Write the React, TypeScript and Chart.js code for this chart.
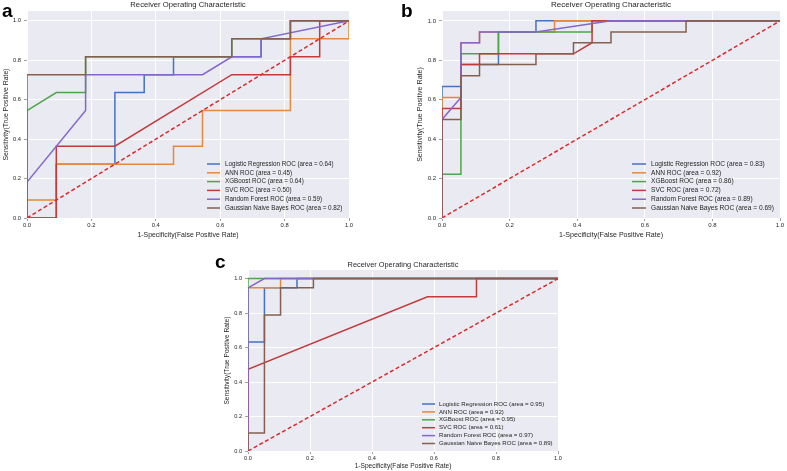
import React, { useEffect, useRef } from "react";
import { Chart, registerables } from "chart.js";

Chart.register(...registerables);

const FONT = "'Liberation Sans', Arial, Helvetica, sans-serif";
const TEXT_COLOR = "#262626";

const MODEL_NAMES = ["Logistic Regression", "ANN", "XGBoost", "SVC", "Random Forest", "Gaussian Naive Bayes"];
const MODEL_COLORS = ["#4472C4", "#E8883A", "#4EA64A", "#C43A3A", "#8466CC", "#86604E"];
const DIAG_COLOR = "#D92B2B";
const AXIS_TICKS = [0, 0.2, 0.4, 0.6, 0.8, 1.0];
const CHANCE_FPR = [0, 1];
const CHANCE_TPR = [0, 1];

// ---------- Panel a ----------
const aAuc = [0.64, 0.45, 0.64, 0.5, 0.59, 0.82];
const aLogRegFpr = [0, 0.091, 0.091, 0.273, 0.273, 0.364, 0.364, 0.455, 0.455, 0.727, 0.727, 0.818, 0.818, 1];
const aLogRegTpr = [0, 0, 0.273, 0.273, 0.636, 0.636, 0.727, 0.727, 0.818, 0.818, 0.909, 0.909, 1, 1];
const aAnnFpr = [0, 0, 0.091, 0.091, 0.455, 0.455, 0.545, 0.545, 0.818, 0.818, 1, 1];
const aAnnTpr = [0, 0.091, 0.091, 0.273, 0.273, 0.364, 0.364, 0.545, 0.545, 0.909, 0.909, 1];
const aXgbFpr = [0, 0, 0.091, 0.182, 0.182, 0.636, 0.636, 0.818, 0.818, 1];
const aXgbTpr = [0, 0.545, 0.636, 0.636, 0.818, 0.818, 0.909, 0.909, 1, 1];
const aSvcFpr = [0, 0.091, 0.091, 0.273, 0.636, 0.818, 0.818, 0.909, 0.909, 1];
const aSvcTpr = [0, 0, 0.364, 0.364, 0.727, 0.727, 0.818, 0.818, 1, 1];
const aRfFpr = [0, 0, 0.182, 0.182, 0.545, 0.636, 0.727, 0.727, 1];
const aRfTpr = [0, 0.182, 0.545, 0.727, 0.727, 0.818, 0.818, 0.909, 1];
const aGnbFpr = [0, 0, 0.182, 0.182, 0.636, 0.636, 0.818, 0.818, 1];
const aGnbTpr = [0, 0.727, 0.727, 0.818, 0.818, 0.909, 0.909, 1, 1];

// ---------- Panel b ----------
const bAuc = [0.83, 0.92, 0.86, 0.72, 0.89, 0.69];
const bLogRegFpr = [0, 0, 0.056, 0.056, 0.167, 0.167, 0.278, 0.278, 1];
const bLogRegTpr = [0, 0.667, 0.667, 0.778, 0.778, 0.944, 0.944, 1, 1];
const bAnnFpr = [0, 0, 0.056, 0.056, 0.111, 0.111, 0.333, 0.333, 1];
const bAnnTpr = [0, 0.611, 0.611, 0.889, 0.889, 0.944, 0.944, 1, 1];
const bXgbFpr = [0, 0, 0.056, 0.056, 0.167, 0.167, 0.444, 0.444, 1];
const bXgbTpr = [0, 0.222, 0.222, 0.833, 0.833, 0.944, 0.944, 1, 1];
const bSvcFpr = [0, 0, 0.056, 0.056, 0.111, 0.111, 0.389, 0.444, 0.444, 1];
const bSvcTpr = [0, 0.556, 0.556, 0.778, 0.778, 0.833, 0.833, 0.889, 1, 1];
const bRfFpr = [0, 0, 0.056, 0.056, 0.111, 0.111, 0.278, 0.5, 1];
const bRfTpr = [0, 0.5, 0.611, 0.889, 0.889, 0.944, 0.944, 1, 1];
const bGnbFpr = [0, 0, 0.056, 0.056, 0.111, 0.111, 0.278, 0.278, 0.389, 0.389, 0.5, 0.5, 0.722, 0.722, 1];
const bGnbTpr = [0, 0.5, 0.5, 0.722, 0.722, 0.778, 0.778, 0.833, 0.833, 0.889, 0.889, 0.944, 0.944, 1, 1];

// ---------- Panel c ----------
const cAuc = [0.95, 0.92, 0.95, 0.61, 0.97, 0.89];
const cLogRegFpr = [0, 0, 0.053, 0.053, 0.158, 0.158, 1];
const cLogRegTpr = [0, 0.632, 0.632, 0.947, 0.947, 1, 1];
const cAnnFpr = [0, 0, 0.105, 0.105, 1];
const cAnnTpr = [0, 0.947, 0.947, 1, 1];
const cXgbFpr = [0, 0, 1];
const cXgbTpr = [0, 1, 1];
const cSvcFpr = [0, 0, 0.579, 0.737, 0.737, 1];
const cSvcTpr = [0, 0.474, 0.895, 0.895, 1, 1];
const cRfFpr = [0, 0, 0.053, 1];
const cRfTpr = [0, 0.947, 1, 1];
const cGnbFpr = [0, 0, 0.053, 0.053, 0.105, 0.105, 0.211, 0.211, 1];
const cGnbTpr = [0, 0.105, 0.105, 0.789, 0.789, 0.947, 0.947, 1, 1];

type Curve = { fpr: number[]; tpr: number[] };

const PANELS = [
  {
    letter: "a",
    letterPos: { left: 2, top: 1 },
    canvas: { left: 0, top: 0, w: 360, h: 245 },
    padding: { left: 0, right: 11, top: 11, bottom: 0 },
    yWidth: 27,
    xHeight: 27,
    yTitlePad: 2,
    xTitlePad: 5.5,
    tickSize: 5.8,
    axisTitleSize: 6.9,
    titleSize: 7.7,
    titleY: 4.6,
    legend: { size: 6.3, x0: 207, x1: 220, tx: 225, y0: 164, gap: 8.8 },
    auc: aAuc,
    curves: [
      { fpr: aLogRegFpr, tpr: aLogRegTpr },
      { fpr: aAnnFpr, tpr: aAnnTpr },
      { fpr: aXgbFpr, tpr: aXgbTpr },
      { fpr: aSvcFpr, tpr: aSvcTpr },
      { fpr: aRfFpr, tpr: aRfTpr },
      { fpr: aGnbFpr, tpr: aGnbTpr },
    ] as Curve[],
  },
  {
    letter: "b",
    letterPos: { left: 401, top: 1 },
    canvas: { left: 400, top: 0, w: 387, h: 245 },
    padding: { left: 14, right: 7, top: 11, bottom: 0 },
    yWidth: 28,
    xHeight: 27,
    yTitlePad: 2,
    xTitlePad: 5.5,
    tickSize: 6,
    axisTitleSize: 7.1,
    titleSize: 8,
    titleY: 4.8,
    legend: { size: 6.6, x0: 232, x1: 246, tx: 251, y0: 164, gap: 8.8 },
    auc: bAuc,
    curves: [
      { fpr: bLogRegFpr, tpr: bLogRegTpr },
      { fpr: bAnnFpr, tpr: bAnnTpr },
      { fpr: bXgbFpr, tpr: bXgbTpr },
      { fpr: bSvcFpr, tpr: bSvcTpr },
      { fpr: bRfFpr, tpr: bRfTpr },
      { fpr: bGnbFpr, tpr: bGnbTpr },
    ] as Curve[],
  },
  {
    letter: "c",
    letterPos: { left: 215, top: 252 },
    canvas: { left: 210, top: 250, w: 360, h: 221 },
    padding: { left: 11, right: 12, top: 20, bottom: 0 },
    yWidth: 27,
    xHeight: 20,
    yTitlePad: 2,
    xTitlePad: 1,
    tickSize: 5.6,
    axisTitleSize: 6.6,
    titleSize: 7.4,
    titleY: 15,
    legend: { size: 6.1, x0: 212, x1: 225, tx: 229, y0: 154, gap: 7.9 },
    auc: cAuc,
    curves: [
      { fpr: cLogRegFpr, tpr: cLogRegTpr },
      { fpr: cAnnFpr, tpr: cAnnTpr },
      { fpr: cXgbFpr, tpr: cXgbTpr },
      { fpr: cSvcFpr, tpr: cSvcTpr },
      { fpr: cRfFpr, tpr: cRfTpr },
      { fpr: cGnbFpr, tpr: cGnbTpr },
    ] as Curve[],
  },
];

const decorPlugin = {
  id: "decor",
  beforeDraw(chart: any, _args: any, opts: any) {
    const { ctx, chartArea: ca } = chart;
    ctx.save();
    ctx.fillStyle = "#EAEAF2";
    ctx.fillRect(ca.left, ca.top, ca.right - ca.left, ca.bottom - ca.top);
    ctx.restore();
  },
  afterDraw(chart: any, _args: any, opts: any) {
    const { ctx, chartArea: ca } = chart;
    ctx.save();
    // title
    ctx.font = `${opts.titleSize}px ${FONT}`;
    ctx.fillStyle = TEXT_COLOR;
    ctx.textAlign = "center";
    ctx.textBaseline = "middle";
    ctx.fillText(opts.title, (ca.left + ca.right) / 2, opts.titleY);
    // legend
    const lg = opts.legend;
    ctx.font = `${lg.size}px ${FONT}`;
    ctx.textAlign = "left";
    ctx.textBaseline = "middle";
    opts.items.forEach((it: any, i: number) => {
      const y = lg.y0 + i * lg.gap;
      ctx.strokeStyle = it.color;
      ctx.lineWidth = 1.5;
      ctx.setLineDash([]);
      ctx.beginPath();
      ctx.moveTo(lg.x0, y);
      ctx.lineTo(lg.x1, y);
      ctx.stroke();
      ctx.fillStyle = TEXT_COLOR;
      ctx.fillText(it.label, lg.tx, y);
    });
    ctx.restore();
  },
};

function RocPanel({ cfg }: { cfg: (typeof PANELS)[number] }) {
  const ref = useRef<HTMLCanvasElement>(null);
  useEffect(() => {
    const canvas = ref.current!;
    const labels = cfg.curves.map((_, i) => `${MODEL_NAMES[i]} ROC (area = ${cfg.auc[i].toFixed(2)})`);
    const datasets: any[] = cfg.curves.map((c, i) => ({
      label: labels[i],
      data: c.fpr.map((x, j) => ({ x, y: c.tpr[j] })),
      borderColor: MODEL_COLORS[i],
      backgroundColor: MODEL_COLORS[i],
      borderWidth: 1.5,
      pointRadius: 0,
      fill: false,
      tension: 0,
      order: 10 - i,
    }));
    datasets.push({
      label: "chance",
      data: CHANCE_FPR.map((x, j) => ({ x, y: CHANCE_TPR[j] })),
      borderColor: DIAG_COLOR,
      borderWidth: 1.5,
      borderDash: [4, 2.5],
      pointRadius: 0,
      fill: false,
      order: 0,
    });
    const tickFont = { family: FONT, size: cfg.tickSize };
    const titleFont = { family: FONT, size: cfg.axisTitleSize };
    const chart = new Chart(canvas, {
      type: "line",
      data: { datasets },
      plugins: [decorPlugin],
      options: {
        responsive: false,
        maintainAspectRatio: false,
        animation: false,
        events: [],
        layout: { padding: cfg.padding },
        plugins: {
          legend: { display: false },
          tooltip: { enabled: false },
          title: { display: false },
          decor: {
            title: "Receiver Operating Characteristic",
            titleSize: cfg.titleSize,
            titleY: cfg.titleY,
            legend: cfg.legend,
            items: labels.map((l, i) => ({ label: l, color: MODEL_COLORS[i] })),
          },
        } as any,
        scales: {
          x: {
            type: "linear",
            min: 0,
            max: 1,
            afterBuildTicks: (s: any) => {
              s.ticks = AXIS_TICKS.map((v) => ({ value: v }));
            },
            afterFit: (s: any) => {
              s.height = cfg.xHeight;
            },
            grid: { color: "#FFFFFF", lineWidth: 1, drawTicks: true, tickLength: 3, tickColor: "#A0A0A0" },
            border: { display: false },
            ticks: {
              font: tickFont,
              color: TEXT_COLOR,
              padding: 1,
              maxRotation: 0,
              autoSkip: false,
              callback: (v: any) => Number(v).toFixed(1),
            },
            title: {
              display: true,
              text: "1-Specificity(False Positive Rate)",
              font: titleFont,
              color: TEXT_COLOR,
              padding: { top: 0, bottom: cfg.xTitlePad },
            },
          },
          y: {
            type: "linear",
            min: 0,
            max: 1.05,
            afterBuildTicks: (s: any) => {
              s.ticks = AXIS_TICKS.map((v) => ({ value: v }));
            },
            afterFit: (s: any) => {
              s.width = cfg.yWidth;
            },
            grid: { color: "#FFFFFF", lineWidth: 1, drawTicks: true, tickLength: 3, tickColor: "#A0A0A0" },
            border: { display: false },
            ticks: {
              font: tickFont,
              color: TEXT_COLOR,
              padding: 3,
              autoSkip: false,
              callback: (v: any) => Number(v).toFixed(1),
            },
            title: {
              display: true,
              text: "Sensitivity(True Positive Rate)",
              font: titleFont,
              color: TEXT_COLOR,
              padding: { top: cfg.yTitlePad, bottom: 0 },
            },
          },
        },
      } as any,
    });
    return () => chart.destroy();
  }, [cfg]);

  const { left, top, w, h } = cfg.canvas;
  return (
    <>
      <canvas
        ref={ref}
        width={w}
        height={h}
        style={{ position: "absolute", left, top, width: w, height: h }}
      />
      <div
        style={{
          position: "absolute",
          left: cfg.letterPos.left,
          top: cfg.letterPos.top,
          fontFamily: FONT,
          fontWeight: "bold",
          fontSize: 19,
          lineHeight: "19px",
          color: "#000",
        }}
      >
        {cfg.letter}
      </div>
    </>
  );
}

export default function App() {
  return (
    <div
      style={{
        position: "fixed",
        left: 0,
        top: 0,
        width: 787,
        height: 471,
        background: "#FFFFFF",
        overflow: "hidden",
      }}
    >
      {PANELS.map((p) => (
        <RocPanel key={p.letter} cfg={p} />
      ))}
    </div>
  );
}
